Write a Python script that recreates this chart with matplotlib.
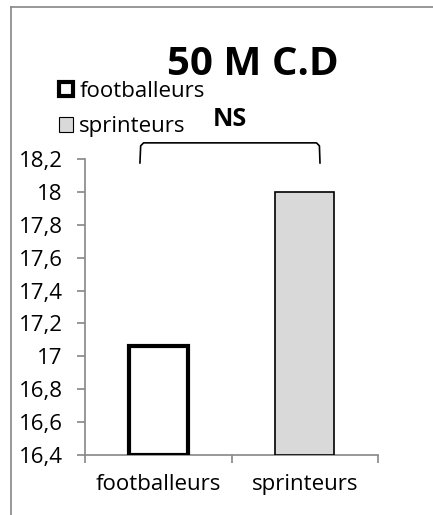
import matplotlib
matplotlib.use('Agg')
import matplotlib.pyplot as plt
from matplotlib.patches import Patch
from matplotlib.lines import Line2D

plt.rcParams['font.family'] = ['Open Sans', 'DejaVu Sans']

categories = ['footballeurs', 'sprinteurs']
values = [17.06, 18.0]
yticks = [16.4, 16.6, 16.8, 17.0, 17.2, 17.4, 17.6, 17.8, 18.0, 18.2]
ytick_labels = ['16,4', '16,6', '16,8', '17', '17,2', '17,4', '17,6', '17,8', '18', '18,2']
title = '50 M C.D'
signif = 'NS'

fig = plt.figure(figsize=(4.33, 5.15), dpi=100)
ax = fig.add_axes([0.1963, 0.1165, 0.6767, 0.5748])

axis_grey = '#868686'
fills = ['white', '#d9d9d9']
edge_widths = [3.0, 1.2]

x = list(range(len(categories)))
for i in x:
    ax.bar(i, values[i] - 16.4, bottom=16.4, width=0.4, color=fills[i],
           edgecolor='black', linewidth=edge_widths[i], zorder=3)

ax.set_xlim(-0.5, 1.5)
ax.set_ylim(16.4, 18.2)
ax.set_yticks(yticks)
ax.set_yticklabels(ytick_labels, fontsize=16)

ax.set_xticks(x)
ax.set_xticklabels(categories, fontsize=16)
ax.tick_params(axis='x', length=0, pad=14)
# category boundary ticks
ax.set_xticks([-0.5, 0.5, 1.5], minor=True)
ax.tick_params(axis='x', which='minor', length=6, color=axis_grey, width=1.2)
ax.tick_params(axis='y', length=6, color=axis_grey, width=1.2, pad=10)

for side in ['top', 'right']:
    ax.spines[side].set_visible(False)
for side in ['left', 'bottom']:
    ax.spines[side].set_color(axis_grey)
    ax.spines[side].set_linewidth(1.2)

# significance bracket
bx = [-0.125, -0.12, -0.1, 1.08, 1.1, 1.104]
by = [18.176, 18.28, 18.298, 18.298, 18.28, 18.176]
ax.plot(bx, by, color='black', linewidth=1.2, clip_on=False, zorder=4)
ax.text(0.49, 18.44, signif, ha='center', va='center', fontsize=18,
        fontweight='bold', clip_on=False)

fig.text(0.584, 0.874, title, ha='center', va='center', fontsize=29,
         fontweight='bold')

handles = [Patch(facecolor=fills[0], edgecolor='black', linewidth=3.0),
           Patch(facecolor=fills[1], edgecolor='black', linewidth=0.8)]
fig.legend(handles, categories, loc='upper left',
           bbox_to_anchor=(0.137, 0.843), frameon=False, fontsize=16,
           handlelength=0.6, handleheight=0.6, handletextpad=0.3,
           labelspacing=0.65, borderpad=0, borderaxespad=0)

# outer frame of the chart area
fig.add_artist(Line2D([0.026, 0.026], [0, 0.986], color=axis_grey,
                      linewidth=1.2, transform=fig.transFigure))
fig.add_artist(Line2D([0.026, 1.0], [0.986, 0.986], color=axis_grey,
                      linewidth=1.2, transform=fig.transFigure))

fig.savefig('out.png', dpi=100)
